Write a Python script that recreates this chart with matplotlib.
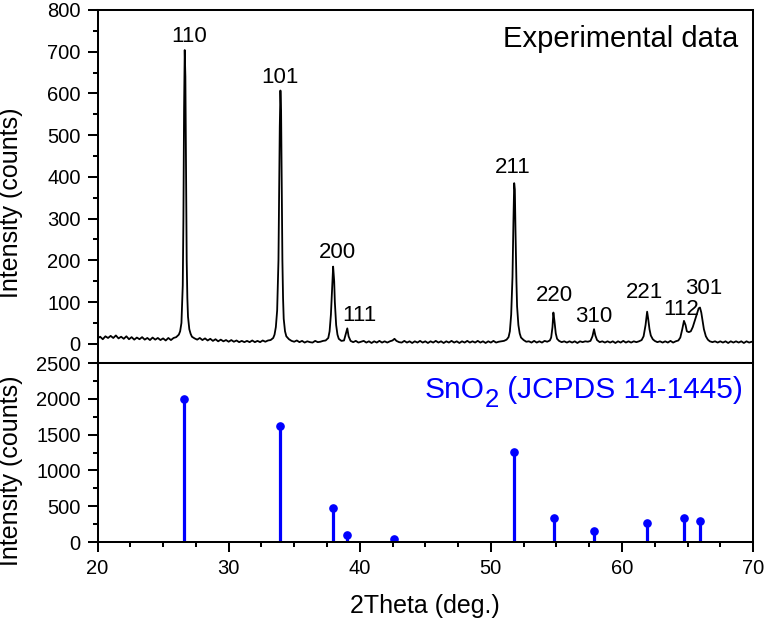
import numpy as np
import matplotlib
matplotlib.use("Agg")
import matplotlib.pyplot as plt
from matplotlib.ticker import MultipleLocator
from matplotlib.transforms import offset_copy

# -------------------------
# Data
# -------------------------
# measured XRD scan: (2theta, counts)
xrd_scan = [
    (20.0, 13), (20.2, 17), (20.4, 11), (20.6, 18), (20.8, 14), (21.0, 19), (21.2, 14), (21.4, 20),
    (21.6, 13), (21.8, 17), (22.0, 12), (22.2, 18), (22.4, 11), (22.6, 16), (22.8, 10), (23.0, 15),
    (23.2, 11), (23.4, 16), (23.6, 10), (23.8, 14), (24.0, 9), (24.2, 15), (24.4, 10), (24.6, 14),
    (24.8, 9), (25.0, 13), (25.2, 8), (25.4, 14), (25.6, 9), (25.8, 14), (26.0, 16), (26.2, 22),
    (26.3, 30), (26.4, 50), (26.5, 140), (26.55, 300), (26.6, 560), (26.65, 704), (26.7, 640),
    (26.75, 420), (26.8, 200), (26.85, 110), (26.9, 65), (27.0, 35), (27.1, 24), (27.2, 17),
    (27.4, 13), (27.6, 10), (27.8, 14), (28.0, 9), (28.2, 13), (28.4, 8), (28.6, 12), (28.8, 7),
    (29.0, 11), (29.2, 6), (29.4, 10), (29.6, 6), (29.8, 9), (30.0, 5), (30.2, 9), (30.4, 5),
    (30.6, 8), (30.8, 4), (31.0, 7), (31.2, 4), (31.4, 7), (31.6, 4), (31.8, 8), (32.0, 4),
    (32.2, 7), (32.4, 4), (32.6, 8), (32.8, 5), (33.0, 8), (33.2, 9), (33.4, 14), (33.5, 22),
    (33.6, 40), (33.7, 80), (33.8, 200), (33.85, 350), (33.9, 520), (33.95, 607), (34.0, 560),
    (34.05, 380), (34.1, 200), (34.15, 110), (34.2, 60), (34.3, 30), (34.4, 18), (34.6, 11),
    (34.8, 7), (35.0, 5), (35.2, 8), (35.4, 4), (35.6, 7), (35.8, 3), (36.0, 6), (36.2, 4),
    (36.4, 3), (36.6, 7), (36.8, 4), (37.0, 5), (37.2, 7), (37.4, 8), (37.6, 14), (37.7, 30),
    (37.8, 70), (37.9, 140), (37.97, 185), (38.05, 150), (38.1, 100), (38.2, 45), (38.3, 22),
    (38.4, 12), (38.6, 7), (38.8, 8), (38.95, 25), (39.05, 37), (39.15, 18), (39.3, 7),
    (39.5, 4), (39.7, 7), (39.9, 3), (40.1, 5), (40.3, 7), (40.5, 3), (40.7, 6), (40.9, 2),
    (41.1, 6), (41.3, 3), (41.5, 7), (41.7, 3), (41.9, 6), (42.1, 3), (42.3, 6), (42.5, 8),
    (42.65, 12), (42.8, 7), (43.0, 4), (43.2, 3), (43.4, 7), (43.6, 3), (43.8, 6), (44.0, 2),
    (44.2, 6), (44.4, 3), (44.6, 7), (44.8, 3), (45.0, 6), (45.2, 2), (45.4, 6), (45.6, 3),
    (45.8, 7), (46.0, 3), (46.2, 6), (46.4, 2), (46.6, 6), (46.8, 3), (47.0, 7), (47.2, 3),
    (47.4, 6), (47.6, 2), (47.8, 6), (48.0, 3), (48.2, 7), (48.4, 3), (48.6, 6), (48.8, 3),
    (49.0, 7), (49.2, 3), (49.4, 6), (49.6, 2), (49.8, 6), (50.0, 3), (50.2, 7), (50.4, 3),
    (50.6, 5), (50.8, 6), (51.0, 7), (51.2, 10), (51.35, 16), (51.45, 30), (51.55, 70),
    (51.65, 160), (51.72, 290), (51.78, 385), (51.83, 370), (51.88, 270), (51.95, 150),
    (52.0, 90), (52.1, 45), (52.2, 25), (52.3, 15), (52.5, 9), (52.7, 5), (52.9, 6), (53.1, 3),
    (53.3, 7), (53.5, 3), (53.7, 6), (53.9, 3), (54.1, 7), (54.3, 5), (54.5, 8), (54.6, 15),
    (54.7, 40), (54.77, 75), (54.85, 55), (54.95, 25), (55.05, 12), (55.2, 7), (55.4, 4),
    (55.6, 6), (55.8, 3), (56.0, 6), (56.2, 3), (56.4, 6), (56.6, 2), (56.8, 6), (57.0, 4),
    (57.2, 6), (57.4, 5), (57.6, 7), (57.75, 18), (57.87, 35), (57.97, 20), (58.1, 9),
    (58.3, 4), (58.5, 6), (58.7, 3), (58.9, 6), (59.1, 3), (59.3, 6), (59.5, 2), (59.7, 6),
    (59.9, 3), (60.1, 7), (60.3, 3), (60.5, 6), (60.7, 3), (60.9, 6), (61.1, 4), (61.3, 6),
    (61.5, 9), (61.65, 18), (61.8, 45), (61.92, 77), (62.0, 60), (62.1, 35), (62.2, 20),
    (62.35, 11), (62.5, 7), (62.7, 4), (62.9, 6), (63.1, 3), (63.3, 6), (63.5, 3), (63.7, 7),
    (63.9, 3), (64.1, 6), (64.3, 8), (64.45, 15), (64.6, 35), (64.73, 55), (64.85, 45),
    (64.95, 30), (65.1, 28), (65.25, 30), (65.4, 40), (65.55, 55), (65.7, 70), (65.85, 85),
    (65.95, 87), (66.05, 75), (66.15, 55), (66.25, 35), (66.4, 18), (66.55, 10), (66.7, 6),
    (66.9, 4), (67.1, 6), (67.3, 3), (67.5, 6), (67.7, 3), (67.9, 6), (68.1, 2), (68.3, 6),
    (68.5, 3), (68.7, 6), (68.9, 3), (69.1, 6), (69.3, 2), (69.5, 6), (69.7, 3), (69.9, 5),
    (70.0, 4),
]

# indexed reflections in the measured pattern
peak_labels = ["110", "101", "200", "111", "211", "220", "310", "221", "112", "301"]
peak_2theta = [26.65, 33.95, 37.97, 39.05, 51.78, 54.77, 57.87, 61.92, 64.73, 65.95]
peak_counts = [704, 607, 185, 37, 385, 75, 35, 77, 55, 87]

# reference pattern SnO2 (JCPDS 14-1445)
ref_2theta = [26.6, 33.9, 37.95, 39.0, 42.6, 51.8, 54.8, 57.85, 61.9, 64.75, 65.95]
ref_counts = [2000, 1620, 480, 100, 40, 1260, 340, 160, 265, 340, 300]

scan_2theta, scan_counts = np.array(xrd_scan).T

# -------------------------
# Style
# -------------------------
plt.rcParams["font.family"] = ["Liberation Sans", "DejaVu Sans"]

LW = 1.45
BLUE = "#0000FF"

fig = plt.figure(figsize=(7.65, 6.2), dpi=100)
ax1 = fig.add_axes([0.1275, 0.4145, 0.8569, 0.5694])
ax2 = fig.add_axes([0.1275, 0.1258, 0.8569, 0.2887])

for ax in (ax1, ax2):
    for sp in ax.spines.values():
        sp.set_linewidth(LW)
    ax.set_xlim(20, 70)
    ax.xaxis.set_major_locator(MultipleLocator(10))
    ax.xaxis.set_minor_locator(MultipleLocator(2.5))
    ax.tick_params(which="major", direction="out", length=7.2, width=LW,
                   labelsize=14.5, pad=4.8, right=False, top=False)
    ax.tick_params(which="minor", direction="out", length=3.8, width=LW,
                   right=False, top=False)

# -------------------------
# Top: experimental data
# -------------------------
ax1.plot(scan_2theta, scan_counts, color="black", lw=1.3)
ax1.set_ylim(-46, 800)
ax1.yaxis.set_major_locator(MultipleLocator(100))
ax1.yaxis.set_minor_locator(MultipleLocator(50))
ax1.tick_params(axis="x", which="both", bottom=False, labelbottom=False)
ax1.set_ylabel("Intensity (counts)", fontsize=18)
ax1.yaxis.set_label_coords(-0.114, 0.453)

# label offsets (pixels -> points)
offsets = [(4, 8), (0, 8), (4, 9), (12, 7), (-1, 10), (1, 12), (0, 7), (-3, 14), (-3, 6), (4, 14)]
for lab, px, py, (dx, dy) in zip(peak_labels, peak_2theta, peak_counts, offsets):
    ax1.annotate(lab, xy=(px, py), xytext=(dx * 0.72, dy * 0.72),
                 textcoords="offset points", ha="center", va="baseline", fontsize=16)

ax1.text(0.977, 0.896, "Experimental data", transform=ax1.transAxes,
         ha="right", va="baseline", fontsize=21)

# -------------------------
# Bottom: reference pattern
# -------------------------
markerline, stemlines, baseline = ax2.stem(ref_2theta, ref_counts, basefmt=" ")
plt.setp(stemlines, color=BLUE, linewidth=2.3)
plt.setp(markerline, color=BLUE, marker="o", markersize=5.2)
ax2.set_ylim(0, 2500)
ax2.yaxis.set_major_locator(MultipleLocator(500))
ax2.yaxis.set_minor_locator(MultipleLocator(250))
ax2.set_ylabel("Intensity (counts)", fontsize=18)
ax2.yaxis.set_label_coords(-0.114, 0.40)
ax2.set_xlabel("2Theta (deg.)", fontsize=18, labelpad=12)

# "SnO2 (JCPDS 14-1445)" with a large, low subscript, built right to left
renderer = fig.canvas.get_renderer()
t_right = ax2.text(0.984, 0.803, " (JCPDS 14-1445)", transform=ax2.transAxes,
                   ha="right", va="baseline", fontsize=21.5, color=BLUE)
x0 = t_right.get_window_extent(renderer).x0
x0_ax = ax2.transAxes.inverted().transform((x0, 0))[0]
t_sub = ax2.text(x0_ax, 0.803, "2", transform=offset_copy(ax2.transAxes, fig, y=-6.2, units="points"),
                 ha="right", va="baseline", fontsize=18.5, color=BLUE)
x1 = t_sub.get_window_extent(renderer).x0
x1_ax = ax2.transAxes.inverted().transform((x1, 0))[0]
ax2.text(x1_ax, 0.803, "SnO", transform=ax2.transAxes,
         ha="right", va="baseline", fontsize=21.5, color=BLUE)

fig.savefig("out.png", dpi=100)
